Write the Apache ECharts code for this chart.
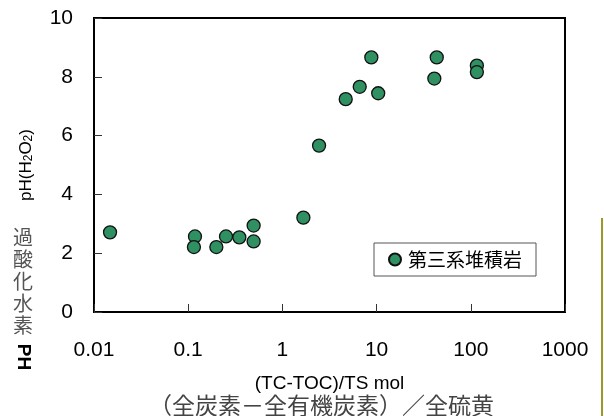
<!DOCTYPE html>
<html>
<head>
<meta charset="utf-8">
<script src="https://cdn.jsdelivr.net/npm/echarts@6/dist/echarts.min.js"></script>
<style>
html,body{margin:0;padding:0;background:#fff;}
#c{width:604px;height:416px;}
</style>
</head>
<body>
<div id="c"></div>
<script>
// Data
const seriesName = '第三系堆積岩';
const xValues = [0.0148, 0.118, 0.115, 0.199, 0.252, 0.349, 0.495, 0.495, 1.67, 2.45, 4.70, 6.62, 8.79, 10.4, 43.5, 41.0, 116, 116];
const phValues = [2.71, 2.57, 2.21, 2.21, 2.57, 2.54, 2.94, 2.40, 3.21, 5.66, 7.24, 7.66, 8.66, 7.44, 8.66, 7.94, 8.38, 8.16];
const xTickLabels = ['0.01', '0.1', '1', '10', '100', '1000'];
const yTickLabels = ['0', '2', '4', '6', '8', '10'];
const xNameLine1 = '(TC-TOC)/TS mol';
const xNameLine2 = '（全炭素－全有機炭素）／全硫黄';
const yNameJa = '過酸化水素';
const yNamePH = 'PH';

const points = xValues.map((x, i) => [x, phValues[i]]);

const chart = echarts.init(document.getElementById('c'), null, {renderer: 'canvas'});
const latin = 'Liberation Sans, Arial, sans-serif';
const cjk = '"Noto Sans CJK JP", sans-serif';

chart.setOption({
  animation: false,
  backgroundColor: '#fff',
  grid: {left: 94, top: 18, right: 39, bottom: 104, show: true, borderColor: '#000', borderWidth: 2,
         backgroundColor: 'transparent', containLabel: false, outerBoundsMode: 'none'},
  legend: {
    show: true,
    left: 374, top: 243,
    orient: 'horizontal',
    backgroundColor: '#fff',
    borderColor: '#555', borderWidth: 1,
    padding: [7, 14, 7, 14],
    itemWidth: 12, itemHeight: 12, itemGap: 5,
    icon: 'circle',
    textStyle: {fontFamily: cjk, fontSize: 19, color: '#000', padding: [0, 0, 0, 2]},
    data: [seriesName]
  },
  xAxis: {
    type: 'log', logBase: 10, min: 0.01, max: 1000,
    axisLine: {show: true, lineStyle: {color: '#000', width: 2}},
    axisTick: {show: true, inside: true, length: 8, lineStyle: {color: '#333', width: 1}},
    minorTick: {show: false},
    splitLine: {show: false},
    axisLabel: {
      margin: 28, fontFamily: latin, fontSize: 21, color: '#000',
      formatter: (v, i) => xTickLabels[i] !== undefined ? xTickLabels[i] : ''
    },
    name: '{a|' + xNameLine1 + '}\n{b|' + xNameLine2 + '}',
    nameLocation: 'middle', nameGap: 62,
    nameTextStyle: {
      rich: {
        a: {fontFamily: latin, fontSize: 19, color: '#000', lineHeight: 20},
        b: {fontFamily: cjk, fontSize: 23, color: '#444', lineHeight: 23, padding: [0, 16, 0, 0]}
      }
    }
  },
  yAxis: {
    type: 'value', min: 0, max: 10, interval: 2,
    axisLine: {show: true, lineStyle: {color: '#000', width: 2}},
    axisTick: {show: true, inside: true, length: 8, lineStyle: {color: '#333', width: 1}},
    splitLine: {show: false},
    axisLabel: {
      margin: 21, fontFamily: latin, fontSize: 21, color: '#000', padding: [6, 0, 0, 0],
      formatter: (v, i) => yTickLabels[i] !== undefined ? yTickLabels[i] : String(v)
    }
  },
  series: [{
    name: seriesName,
    type: 'scatter',
    data: points,
    symbol: 'circle',
    symbolSize: 13,
    itemStyle: {color: '#2f9062', borderColor: '#111', borderWidth: 1.3, opacity: 1}
  }],
  graphic: [
    {
      type: 'text', left: 13, top: 226,
      style: {text: yNameJa.split('').join('\n'), font: '20px "Noto Sans CJK JP", sans-serif', fill: '#555', lineHeight: 22}
    },
    {
      type: 'text', x: 23, y: 357, rotation: -Math.PI / 2,
      style: {text: yNamePH, font: 'bold 19px "Liberation Sans", Arial, sans-serif', fill: '#000', align: 'center', verticalAlign: 'middle'}
    },
    {
      type: 'text', x: 26, y: 165, rotation: Math.PI / 2,
      style: {
        text: 'pH(H{s|2}O{s|2})',
        font: '17px "Liberation Sans", Arial, sans-serif', fill: '#000', align: 'center', verticalAlign: 'middle',
        rich: {s: {fontSize: 12, fontFamily: 'Liberation Sans', fill: '#000', padding: [6, 0, 0, 0]}}
      }
    },
    {
      type: 'line', shape: {x1: 602, y1: 218, x2: 602, y2: 416},
      style: {stroke: '#9a9a2a', lineWidth: 2}
    }
  ]
});
</script>
</body>
</html>
